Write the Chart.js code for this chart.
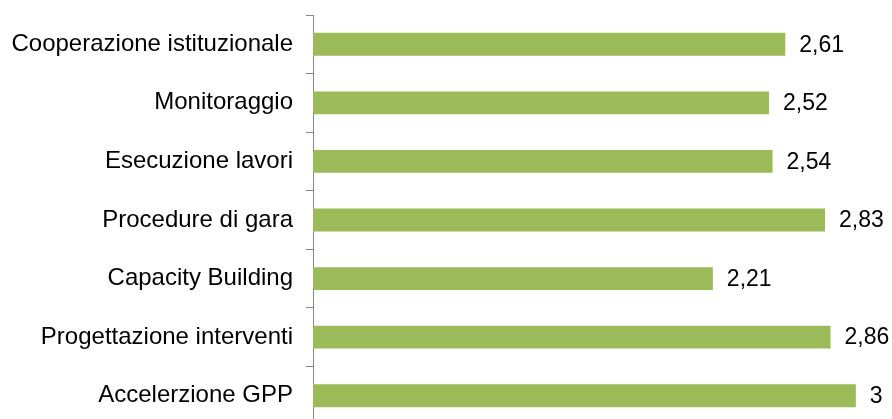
<!DOCTYPE html>
<html>
<head>
<meta charset="utf-8">
<script src="https://cdn.jsdelivr.net/npm/chart.js@4"></script>
<style>
  html, body { margin: 0; padding: 0; background: #fff; overflow: hidden; }
  #wrap { width: 892px; height: 430px; }
</style>
</head>
<body>
<div id="wrap"><canvas id="overviewChart" width="892" height="430"></canvas></div>
<script>
var categories = [
    "Cooperazione istituzionale",
    "Monitoraggio",
    "Esecuzione lavori",
    "Procedure di gara",
    "Capacity Building",
    "Progettazione interventi",
    "Accelerzione GPP"
];
var values = [2.61, 2.52, 2.54, 2.83, 2.21, 2.86, 3];

var barGreen = '#9bbb59';
var axisGrey = '#868686';
var fontFamily = '"Liberation Sans", Arial, sans-serif';

// writes each value next to the end of its bar, italian decimal comma
var valueLabels = {
    id: 'valueLabels',
    afterDatasetsDraw: function (chart) {
        var ctx = chart.ctx;
        var meta = chart.getDatasetMeta(0);
        ctx.save();
        ctx.font = '23px ' + fontFamily;
        ctx.fillStyle = '#000';
        ctx.textAlign = 'left';
        ctx.textBaseline = 'middle';
        meta.data.forEach(function (bar, i) {
            var txt = String(values[i]).replace('.', ',');
            ctx.fillText(txt, bar.x + 14, bar.y + 1);
        });
        ctx.restore();
    }
};

var config = {
    type: 'bar',
    data: {
        labels: categories,
        datasets: [{
            data: values,
            backgroundColor: barGreen,
            borderWidth: 0,
            barPercentage: 0.39,
            categoryPercentage: 1
        }]
    },
    options: {
        indexAxis: 'y',
        responsive: false,
        animation: false,
        layout: {
            padding: { top: 15, right: 0, bottom: 5, left: 0 }
        },
        plugins: {
            legend: { display: false },
            tooltip: { enabled: false }
        },
        scales: {
            x: {
                display: false,
                min: 0,
                max: 3.2
            },
            y: {
                // fixed width so the axis line sits at x = 313
                afterFit: function (scale) {
                    scale.width = 313;
                    scale.paddingTop = 0;
                    scale.paddingBottom = 0;
                },
                grid: {
                    drawOnChartArea: false,
                    drawTicks: true,
                    tickLength: 7,
                    color: axisGrey,
                    lineWidth: 1
                },
                border: { display: true, color: axisGrey, width: 1 },
                ticks: {
                    padding: 13,
                    color: '#000',
                    font: { family: fontFamily, size: 24 }
                }
            }
        }
    },
    plugins: [valueLabels]
};

var ctx = document.getElementById("overviewChart");
window.overviewChart = new Chart(ctx, config);
</script>
</body>
</html>
